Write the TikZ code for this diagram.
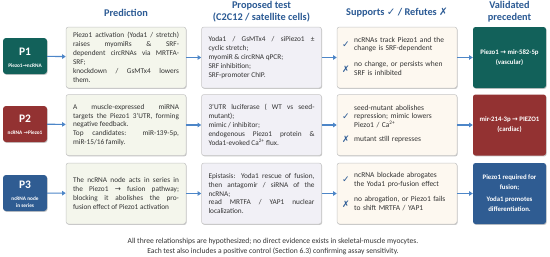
\documentclass[tikz,border=0pt]{standalone}
\usepackage{fontspec}
\setmainfont{Carlito}
\newfontfamily\symf{DejaVu Sans}
\usetikzlibrary{shadows,arrows.meta}
\definecolor{tealP}{HTML}{12615A}
\definecolor{redP}{HTML}{933232}
\definecolor{blueP}{HTML}{2F5C92}
\definecolor{arrC}{HTML}{4D86C8}
\definecolor{hdrC}{HTML}{2B5A94}
\definecolor{predF}{HTML}{F4F6EC}
\definecolor{testF}{HTML}{F1F0F6}
\definecolor{supF}{HTML}{FDF8F0}
\definecolor{bordC}{HTML}{C6C6C6}
\definecolor{txtC}{HTML}{333333}
\tikzset{
  shad/.style={drop shadow={shadow xshift=0.7pt,shadow yshift=-0.9pt,opacity=0.22,fill=black}},
  cell/.style={shad,draw=bordC,line width=0.5pt,rounded corners=2.5pt,minimum height=61pt,
    text width=106pt,inner xsep=7pt,inner ysep=0pt,align=justify,text=txtC,
    font=\fontsize{7.3}{8.9}\selectfont},
  supbox/.style={shad,draw=bordC,line width=0.5pt,rounded corners=2.5pt,minimum height=61pt,
    minimum width=120pt,inner sep=0pt,fill=supF},
  suptext/.style={anchor=west,text width=98pt,align=left,inner sep=0pt,text=txtC,
    font=\fontsize{7.5}{8.7}\selectfont},
  markc/.style={inner sep=0pt,text=hdrC,font=\symf\fontsize{9}{9}\selectfont},
  valbox/.style={shad,rounded corners=2.5pt,minimum height=61pt,minimum width=73pt,
    inner sep=0pt,text=white,align=center,font=\bfseries\fontsize{6.8}{10}\selectfont},
  pbox/.style={shad,rounded corners=3pt,minimum height=36pt,minimum width=44pt,inner sep=0pt},
  ptitle/.style={text=white,inner sep=0pt,font=\bfseries\fontsize{11.5}{12}\selectfont},
  psub/.style={text=white,inner sep=0pt,align=center,font=\bfseries\fontsize{5.3}{7.2}\selectfont},
  hdr/.style={text=hdrC,align=center,inner sep=0pt,font=\bfseries\fontsize{10.3}{11.5}\selectfont},
  conn/.style={draw=arrC,line width=1.1pt,-{Triangle[length=3.6pt,width=4.4pt]}},
  foot/.style={text=txtC,align=center,inner sep=0pt,font=\fontsize{7.6}{10}\selectfont}
}
\begin{document}
\begin{tikzpicture}[x=1pt,y=-1pt]
\useasboundingbox[fill=white] (0,0) rectangle (550,257);

% headers
\node[hdr] (hPred) at (126,13) {Prediction};
\node[hdr] (hTest) at (261.5,11.5) {Proposed test\\(C2C12 / satellite cells)};
\node[hdr] (hSup) at (397,13) {Supports {\symf\mdseries ✓} / Refutes {\symf\mdseries ✗}};
\node[hdr] (hVal) at (509.5,11.5) {Validated\\precedent};

% ---------- Row 1 ----------
\node[pbox,fill=tealP] (p1) at (25,56) {};
\node[ptitle] (p1t) at ([yshift=4.5pt]p1.center) {P1};
\node[psub] (p1s) at ([yshift=-9.5pt]p1.center) {Piezo1{\symf →}ncRNA};
\node[cell,fill=predF] (pred1) at (126,57.5) {Piezo1 activation (Yoda1 / stretch)\linebreak raises myomiRs \& SRF-\linebreak dependent circRNAs via MRTFA-\linebreak SRF;\\ knockdown / GsMTx4 lowers\linebreak them.};
\node[cell,fill=testF] (test1) at (261.5,57.5) {Yoda1 / GsMTx4 / siPiezo1 ±\linebreak cyclic stretch;\\ myomiR \& circRNA qPCR;\\ SRF inhibition;\\ SRF-promoter ChIP.};
\node[supbox] (sup1) at (397,57.5) {};
\node[markc] (s1c) at (346,45) {✓};
\node[suptext] (s1ct) at (354,44.5) {ncRNAs track Piezo1 and the\\change is SRF-dependent};
\node[markc] (s1x) at (346,69.5) {✗};
\node[suptext] (s1xt) at (354,68.5) {no change, or persists when\\SRF is inhibited};
\node[valbox,fill=tealP] (val1) at (509.5,57.5) {Piezo1 {\symf →} mir-582-5p\\(vascular)};

% ---------- Row 2 ----------
\node[pbox,fill=redP] (p2) at (25,124) {};
\node[ptitle] (p2t) at ([yshift=5.5pt]p2.center) {P2};
\node[psub] (p2s) at ([yshift=-9pt]p2.center) {ncRNA {\symf →}Piezo1};
\node[cell,fill=predF] (pred2) at (126,125) {A muscle-expressed miRNA\linebreak targets the Piezo1 3'UTR, forming\linebreak negative feedback.\\ Top candidates: miR-139-5p,\linebreak miR-15/16 family.};
\node[cell,fill=testF] (test2) at (261.5,125) {3'UTR luciferase ( WT vs seed-\linebreak mutant);\\ mimic / inhibitor;\\ endogenous Piezo1 protein \&\linebreak Yoda1-evoked Ca\textsuperscript{2+} flux.};
\node[supbox] (sup2) at (397,125) {};
\node[markc] (s2c) at (346,117) {✓};
\node[suptext] (s2ct) at (354,116.5) {seed-mutant abolishes\\repression; mimic lowers\\Piezo1 / Ca\textsuperscript{2+}};
\node[markc] (s2x) at (346,139) {✗};
\node[suptext] (s2xt) at (354,139) {mutant still represses};
\node[valbox,fill=redP] (val2) at (509.5,125) {mir-214-3p {\symf →} PIEZO1\\(cardiac)};

% ---------- Row 3 ----------
\node[pbox,fill=blueP] (p3) at (25,193) {};
\node[ptitle] (p3t) at ([yshift=8pt]p3.center) {P3};
\node[psub] (p3s) at ([yshift=-9.5pt]p3.center) {ncRNA node\\in series};
\node[cell,fill=predF] (pred3) at (126,193.5) {The ncRNA node acts in series in\linebreak the Piezo1 {\symf →} fusion pathway;\linebreak blocking it abolishes the pro-\linebreak fusion effect of Piezo1 activation};
\node[cell,fill=testF] (test3) at (261.5,193.5) {Epistasis: Yoda1 rescue of fusion,\linebreak then antagomir / siRNA of the\linebreak ncRNA;\\ read MRTFA / YAP1 nuclear\linebreak localization.};
\node[supbox] (sup3) at (397,193.5) {};
\node[markc] (s3c) at (346,180) {✓};
\node[suptext] (s3ct) at (354,180) {ncRNA blockade abrogates\\the Yoda1 pro-fusion effect};
\node[markc] (s3x) at (346,204) {✗};
\node[suptext] (s3xt) at (354,203.5) {no abrogation, or Piezo1 fails\\to shift MRTFA / YAP1};
\node[valbox,fill=blueP] (val3) at (509.5,193.5) {Piezo1 required for\\fusion;\\[2pt]Yoda1 promotes\\differentiation.};

% connectors
\foreach \r in {1,2,3}{
  \draw[conn] (p\r) -- (pred\r);
  \draw[conn] (pred\r) -- (test\r);
  \draw[conn] (test\r) -- (sup\r);
  \draw[conn] (sup\r) -- (val\r);
}

% footer
\node[foot] (note) at (273,247) {All three relationships are hypothesized; no direct evidence exists in skeletal-muscle myocytes.\\Each test also includes a positive control (Section 6.3) confirming assay sensitivity.};
\end{tikzpicture}
\end{document}
